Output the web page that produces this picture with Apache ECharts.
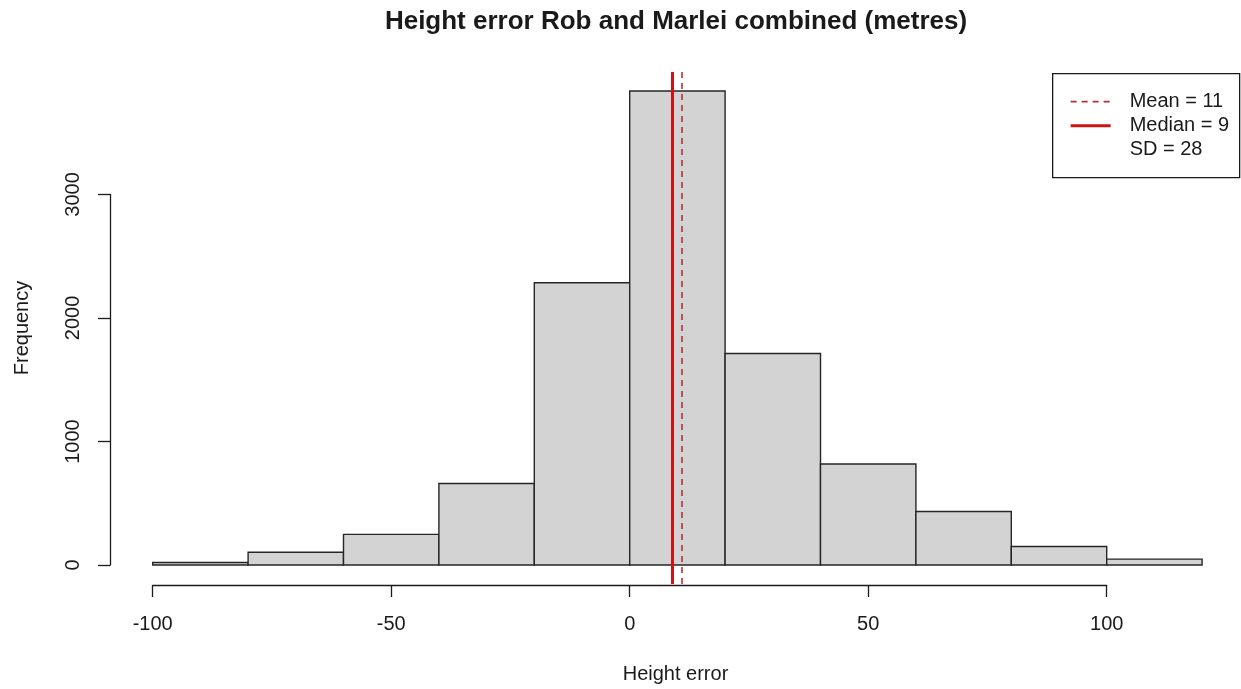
<!DOCTYPE html>
<html>
<head>
<meta charset="utf-8">
<title>Height error histogram</title>
<script src="https://cdn.jsdelivr.net/npm/echarts@6/dist/echarts.min.js"></script>
<style>
  html, body { margin: 0; padding: 0; background: #fff; }
  #chart { width: 1241px; height: 689px; }
</style>
</head>
<body>
<div id="chart"></div>
<script>
// histogram bins (metres) and counts
const breaks = [-100, -80, -60, -40, -20, 0, 20, 40, 60, 80, 100, 120];
const counts = [20, 104, 248, 660, 2285, 3838, 1713, 818, 434, 150, 48];
const xTicks = [-100, 100, 50];   // min, max, step
const yTicks = [0, 3000, 1000];
// summary stats
const meanVal = 11;
const medianVal = 9;
const sdVal = 28;

const FONT = '"Liberation Sans", Arial, sans-serif';
const INK = '#1a1a1a';

// plot region (R style, ranges padded by 4%)
const plotTop = 72, plotBottom = 584;
const plotLeft = 110;
const pxPerX = 4.77;
const xMin = -100 - (152.7 - plotLeft) / pxPerX;
const xMax = -100 + (1241 - 152.7) / pxPerX;
const yMax0 = Math.max(...counts);
const yMin = -0.04 * yMax0, yMax = 1.04 * yMax0;
const pxPerY = (plotBottom - plotTop) / (yMax - yMin);

const histData = counts.map((c, i) => [breaks[i], breaks[i + 1], c]);

const chartDom = document.getElementById('chart');
const myChart = echarts.init(chartDom);

const option = {
  animation: false,
  backgroundColor: '#fff',
  grid: [
    // main plot region
    { left: plotLeft, right: 0, top: plotTop, bottom: 689 - plotBottom },
    // x axis strip (-100..100)
    { left: 152.7 + (xTicks[0] + 100) * pxPerX, width: (xTicks[1] - xTicks[0]) * pxPerX, top: plotBottom, height: 1 },
    // y axis strip (0..3000)
    { left: plotLeft, width: 1, top: plotTop + (yMax - yTicks[1]) * pxPerY, height: (yTicks[1] - yTicks[0]) * pxPerY }
  ],
  xAxis: [
    {
      gridIndex: 0, type: 'value', min: xMin, max: xMax,
      axisLine: { show: false }, axisTick: { show: false }, axisLabel: { show: false }, splitLine: { show: false },
      name: 'Height error', nameLocation: 'middle', nameGap: 80,
      nameTextStyle: { fontFamily: FONT, fontSize: 20, color: INK }
    },
    {
      gridIndex: 1, type: 'value', min: xTicks[0], max: xTicks[1], interval: xTicks[2], position: 'bottom',
      axisLine: { lineStyle: { color: INK, width: 1.3 } },
      axisTick: { length: 12, lineStyle: { color: INK, width: 1.3 } },
      axisLabel: { margin: 29, fontFamily: FONT, fontSize: 20, color: INK },
      splitLine: { show: false }
    },
    { gridIndex: 2, type: 'value', show: false }
  ],
  yAxis: [
    {
      gridIndex: 0, type: 'value', min: yMin, max: yMax,
      axisLine: { show: false }, axisTick: { show: false }, axisLabel: { show: false }, splitLine: { show: false },
      name: 'Frequency', nameLocation: 'middle', nameGap: 78,
      nameTextStyle: { fontFamily: FONT, fontSize: 20, color: INK }
    },
    { gridIndex: 1, type: 'value', show: false },
    {
      gridIndex: 2, type: 'value', min: yTicks[0], max: yTicks[1], interval: yTicks[2], position: 'left',
      axisLine: { lineStyle: { color: INK, width: 1.3 } },
      axisTick: { length: 12, lineStyle: { color: INK, width: 1.3 } },
      axisLabel: { rotate: 90, margin: 27, fontFamily: FONT, fontSize: 20, color: INK, formatter: v => String(v) },
      splitLine: { show: false }
    }
  ],
  series: [
    {
      type: 'custom',
      xAxisIndex: 0, yAxisIndex: 0,
      data: histData,
      encode: { x: [0, 1], y: 2 },
      renderItem: (params, api) => {
        const p0 = api.coord([api.value(0), api.value(2)]);
        const p1 = api.coord([api.value(1), 0]);
        return {
          type: 'rect',
          shape: { x: p0[0], y: p0[1], width: p1[0] - p0[0], height: p1[1] - p0[1] },
          style: { fill: '#d3d3d3', stroke: '#262626', lineWidth: 1.4 }
        };
      }
    },
    {
      type: 'line',
      xAxisIndex: 0, yAxisIndex: 0,
      data: [],
      markLine: {
        silent: true,
        symbol: 'none',
        label: { show: false },
        data: [
          { xAxis: meanVal, lineStyle: { color: '#b3303c', width: 1.6, type: [6, 5] } },
          { xAxis: medianVal, lineStyle: { color: '#cc1414', width: 3, type: 'solid' } }
        ]
      }
    }
  ],
  graphic: [
    {
      type: 'text', x: 676, y: 22,
      style: {
        text: 'Height error Rob and Marlei combined (metres)',
        font: 'bold 26px ' + FONT, fill: INK, align: 'center', verticalAlign: 'middle'
      }
    },
    {
      type: 'group', left: 1052, top: 73,
      children: [
        { type: 'rect', shape: { x: 0, y: 0, width: 187, height: 104 }, style: { fill: '#fff', stroke: INK, lineWidth: 1.3 } },
        { type: 'line', shape: { x1: 18, y1: 28, x2: 58, y2: 28 }, style: { stroke: '#b3303c', lineWidth: 1.6, lineDash: [6, 5] } },
        { type: 'line', shape: { x1: 18, y1: 52, x2: 58, y2: 52 }, style: { stroke: '#cc1414', lineWidth: 3 } },
        { type: 'text', x: 77, y: 28, style: { text: 'Mean = ' + meanVal, font: '20px ' + FONT, fill: INK, verticalAlign: 'middle' } },
        { type: 'text', x: 77, y: 52, style: { text: 'Median = ' + medianVal, font: '20px ' + FONT, fill: INK, verticalAlign: 'middle' } },
        { type: 'text', x: 77, y: 76, style: { text: 'SD = ' + sdVal, font: '20px ' + FONT, fill: INK, verticalAlign: 'middle' } }
      ]
    }
  ]
};
myChart.setOption(option);
</script>
</body>
</html>
